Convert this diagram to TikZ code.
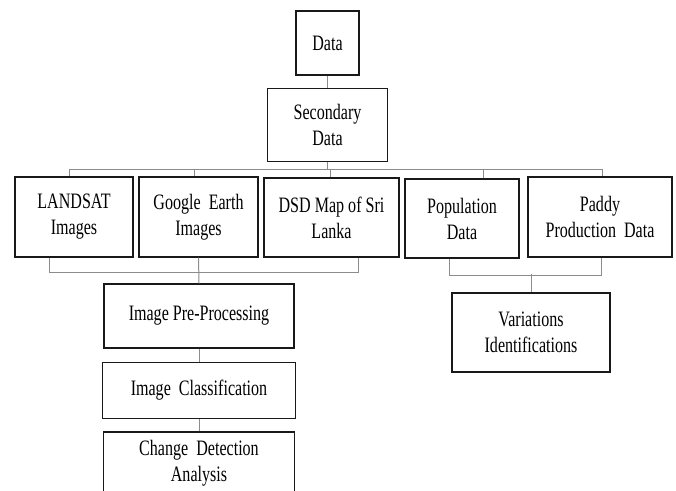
\documentclass[tikz,border=0pt]{standalone}
\usepackage{fontspec}
\setmainfont[FakeStretch=0.73]{Liberation Serif}
\usepackage{tikz}
\usetikzlibrary{calc}
\usetikzlibrary{positioning}

\begin{document}
\begin{tikzpicture}[x=1pt,y=-1pt,-,semithick]
	\tikzstyle{box}=[draw=black!90, line width=1.4pt, fill=white, align=center, inner sep=1pt, font=\fontsize{22}{26}\selectfont]
	\tikzstyle{link}=[draw=black!45, line width=1pt]
	\clip (0,0) rectangle (676,490);

	% top
	\node[box, minimum width=63pt, minimum height=64pt] (Data) at (327.5,43) {Data};
	\node[box, minimum width=120pt, minimum height=73pt] (Sec) [below=12pt of Data] {Secondary\\Data};

	% sources
	\node[box, minimum width=118pt, minimum height=80pt] (Land) at (74,217) {LANDSAT\\Images};
	\node[box, minimum width=119pt, minimum height=80pt] (Goog) at (198.5,217) {Google\ \ Earth\\Images};
	\node[box, minimum width=135pt, minimum height=79pt] (DSD) at (331.5,217.5) {DSD Map of Sri\\Lanka};
	\node[box, minimum width=114pt, minimum height=79pt] (Pop) at (462,218.5) {Population\\Data};
	\node[box, minimum width=144pt, minimum height=80pt] (Paddy) at (600,217) {Paddy\\Production\ \ Data};

	% image chain
	\node[box, minimum width=190pt, minimum height=64pt] (Pre) at (199,316) {Image Pre-Processing};
	\node[box, minimum width=193pt, minimum height=56pt] (Class) [below=13pt of Pre] {Image\ \ Classification};
	\node[box, minimum width=191pt, minimum height=63pt] (Change) [below=12pt of Class] {Change\ \ Detection\\Analysis};

	\node[box, minimum width=158pt, minimum height=79pt] (Var) at (531,332.5) {Variations\\Identifications};

	\path[link]
		(Data) edge (Sec)
		(Pre) edge (Class)
		(Class) edge (Change);

	% bus
	\coordinate (bus) at ($(Sec.south)+(0,7)$);
	\draw[link] (Sec.south) -- (bus);
	\draw[link] ([xshift=-5]Land.north) |- (bus) -| ([xshift=2]Paddy.north);
	\foreach \n/\s in {Goog/-4.5, DSD/-1.5, Pop/21}
		\draw[link] ([xshift=\s]\n.north) -- ([xshift=\s]\n.north |- bus);

	% brackets
	\draw[link] ([xshift=-25]Land.south) -- ++(0,15) -| ([xshift=26.5]DSD.south);
	\draw[link] (Goog.south) -- (Pre.north);
	\draw[link] ([xshift=-13]Pop.south) -- ++(0,17) -| ([xshift=1]Paddy.south);
	\draw[link] (Var.north) -- ++(0,-18);
\end{tikzpicture}
\end{document}
